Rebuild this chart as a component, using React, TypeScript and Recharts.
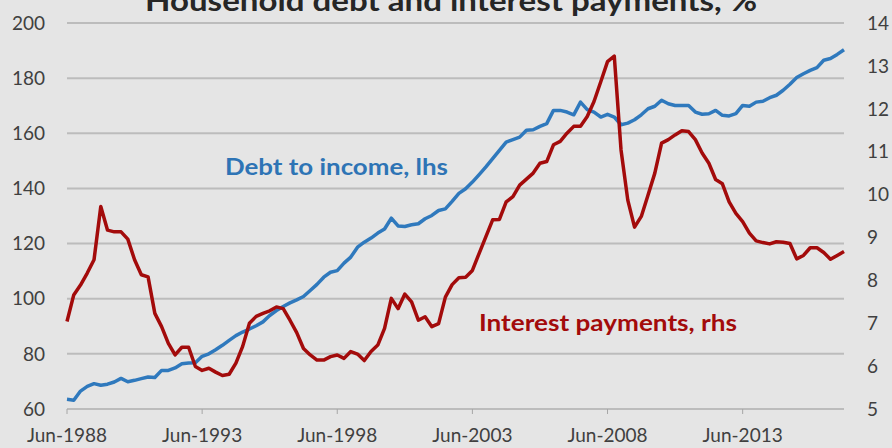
// Household debt (lhs) and interest payments (rhs), quarterly from Jun-1988
import { LineChart, Line, XAxis, YAxis, CartesianGrid } from 'recharts'

const firstYear = 1988
const months = ['Mar', 'Jun', 'Sep', 'Dec']

const debtToIncome = [
  63.5, 63.2, 66.5, 68.2, 69.2, 68.6, 69.0, 69.8, 71.1, 69.9,
  70.4, 71.0, 71.6, 71.4, 74.0, 74.0, 74.9, 76.4, 76.7, 76.8,
  79.1, 80.0, 81.5, 83.1, 84.9, 86.6, 87.9, 89.0, 90.2, 91.6,
  93.9, 95.7, 97.2, 98.5, 99.6, 100.8, 103.0, 105.2, 107.8, 109.6,
  110.2, 112.9, 115.1, 118.7, 120.5, 122.0, 123.8, 125.3, 129.2, 126.4,
  126.2, 126.8, 127.2, 129.0, 130.2, 132.0, 132.6, 135.3, 138.2, 139.9,
  142.3, 145.0, 147.8, 150.8, 153.8, 156.8, 157.7, 158.6, 161.1, 161.3,
  162.5, 163.5, 168.3, 168.3, 167.7, 166.7, 171.3, 168.6, 167.7, 165.9,
  166.9, 165.9, 163.1, 163.7, 164.9, 166.7, 168.9, 169.8, 172.0, 170.7,
  170.1, 170.1, 170.1, 167.7, 166.9, 167.1, 168.3, 166.5, 166.3, 167.1,
  170.1, 169.8, 171.3, 171.6, 172.9, 173.8, 175.6, 177.8, 180.2, 181.6,
  182.8, 183.8, 186.5, 187.1, 188.6, 190.3,
]

const interestPayments = [
  7.04, 7.66, 7.89, 8.17, 8.48, 9.72, 9.17, 9.13, 9.13, 8.96,
  8.48, 8.13, 8.08, 7.23, 6.92, 6.53, 6.26, 6.44, 6.44, 5.99,
  5.90, 5.95, 5.86, 5.78, 5.81, 6.07, 6.46, 7.0, 7.16, 7.23,
  7.29, 7.38, 7.34, 7.07, 6.78, 6.41, 6.26, 6.14, 6.14, 6.22,
  6.26, 6.18, 6.34, 6.28, 6.13, 6.34, 6.49, 6.88, 7.58, 7.34,
  7.68, 7.50, 7.07, 7.15, 6.92, 6.99, 7.61, 7.90, 8.06, 8.07,
  8.23, 8.63, 9.02, 9.41, 9.42, 9.83, 9.95, 10.22, 10.36, 10.5,
  10.73, 10.77, 11.16, 11.24, 11.43, 11.59, 11.59, 11.82, 12.17, 12.63,
  13.10, 13.23, 11.04, 9.87, 9.24, 9.49, 9.99, 10.5, 11.2, 11.28,
  11.39, 11.49, 11.47, 11.28, 10.97, 10.73, 10.35, 10.25, 9.83, 9.56,
  9.37, 9.10, 8.92, 8.88, 8.85, 8.90, 8.89, 8.86, 8.50, 8.58,
  8.76, 8.76, 8.65, 8.49, 8.58, 8.67,
]

const xTicks = ['Jun-1988', 'Jun-1993', 'Jun-1998', 'Jun-2003', 'Jun-2008', 'Jun-2013']
const leftTicks = [60, 80, 100, 120, 140, 160, 180, 200]
const rightTicks = [5, 6, 7, 8, 9, 10, 11, 12, 13, 14]

// quarter labels, starting at Jun-1988
const quarters = debtToIncome.map((_, i) => {
  const q = i + 1
  return `${months[q % 4]}-${firstYear + Math.floor(q / 4)}`
})

const data = quarters.map((q, i) => ({ q, debt: debtToIncome[i], interest: interestPayments[i] }))

const BLUE = '#2f79bd'
const RED = '#a30b0b'
const TEXT = '#404040'
const GRID = '#bcbcbc'

export default function App() {
  return (
    <div style={{ position: 'absolute', left: 0, top: 0, width: 892, height: 448, overflow: 'hidden', background: '#e5e5e5', fontFamily: 'Lato, sans-serif' }}>
      <LineChart width={892} height={448} data={data} margin={{ top: 23, right: 0, bottom: 0, left: 0 }}>
        <CartesianGrid yAxisId="left" vertical={false} stroke={GRID} strokeWidth={2} />
        <XAxis
          dataKey="q"
          ticks={xTicks}
          interval={0}
          height={39}
          tickSize={5}
          tickMargin={15}
          axisLine={{ stroke: GRID, strokeWidth: 2 }}
          tickLine={{ stroke: '#a6a6a6' }}
          tick={{ fill: TEXT, fontSize: 19 }}
        />
        <YAxis
          yAxisId="left"
          domain={[60, 200]}
          ticks={leftTicks}
          width={67}
          axisLine={false}
          tickLine={false}
          tickSize={0}
          tickMargin={22}
          tick={{ fill: TEXT, fontSize: 19 }}
        />
        <YAxis
          yAxisId="right"
          orientation="right"
          domain={[5, 14]}
          ticks={rightTicks}
          width={48}
          axisLine={false}
          tickLine={false}
          tickSize={0}
          tickMargin={23}
          tick={{ fill: TEXT, fontSize: 19 }}
        />
        <Line yAxisId="left" dataKey="debt" stroke={BLUE} strokeWidth={3.5} dot={false} isAnimationActive={false} strokeLinejoin="round" />
        <Line yAxisId="right" dataKey="interest" stroke={RED} strokeWidth={3.5} dot={false} isAnimationActive={false} strokeLinejoin="round" />
      </LineChart>
      {/* titel + serienlabels als overlay */}
      <svg width={892} height={448} style={{ position: 'absolute', left: 0, top: 0, pointerEvents: 'none' }}>
        <text x={145} y={11} textLength={612} lengthAdjust="spacingAndGlyphs" fontSize={28} fontWeight={700} fill="#262626">
          Household debt and interest payments, %
        </text>
        <text x={225} y={175} textLength={223} lengthAdjust="spacingAndGlyphs" fontSize={22} fontWeight={700} fill="#2e74b5">
          Debt to income, lhs
        </text>
        <text x={479} y={331} textLength={258} lengthAdjust="spacingAndGlyphs" fontSize={22} fontWeight={700} fill={RED}>
          Interest payments, rhs
        </text>
      </svg>
    </div>
  )
}
